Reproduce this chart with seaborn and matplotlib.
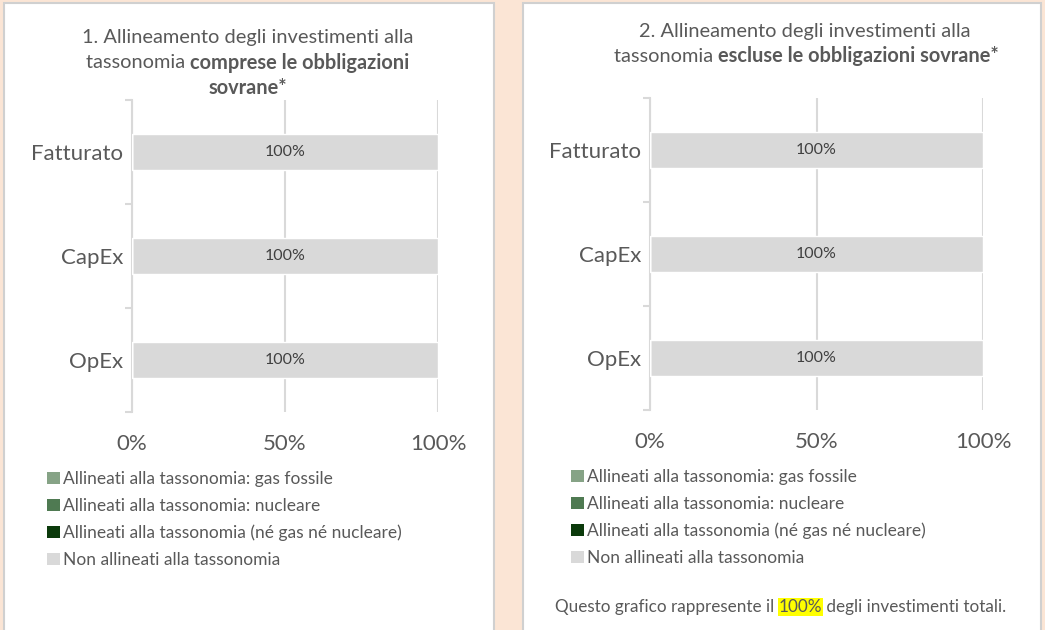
import numpy as np
import pandas as pd
import matplotlib
matplotlib.use("Agg")
import matplotlib.pyplot as plt
from matplotlib.patches import Rectangle, Patch
import seaborn as sns

categories = ["Fatturato", "CapEx", "OpEx"]
series_names = [
    "Allineati alla tassonomia: gas fossile",
    "Allineati alla tassonomia: nucleare",
    "Allineati alla tassonomia (né gas né nucleare)",
    "Non allineati alla tassonomia",
]
series_colors = ["#86A386", "#4F7A52", "#0B3A0B", "#D9D9D9"]

# panel 1: comprese le obbligazioni sovrane
gas_1 = [0, 0, 0]
nuc_1 = [0, 0, 0]
other_1 = [0, 0, 0]
non_1 = [100, 100, 100]

# panel 2: escluse le obbligazioni sovrane
gas_2 = [0, 0, 0]
nuc_2 = [0, 0, 0]
other_2 = [0, 0, 0]
non_2 = [100, 100, 100]

xticks = [0, 50, 100]
xtick_labels = ["0%", "50%", "100%"]

TXT = "#595959"
GRID = "#D9D9D9"
BG = "#FBE5D5"
FONT = ["Lato", "DejaVu Sans"]

sns.set_style("white")
plt.rcParams["font.family"] = FONT

W, H = 1045, 630
fig = plt.figure(figsize=(W / 100, H / 100), dpi=100)
fig.patch.set_facecolor(BG)

def px(x, y):
    return x / W, 1 - y / H

# white panels
for x0, x1 in [(4, 494), (523, 1041)]:
    fig.patches.append(Rectangle((x0 / W, -0.01), (x1 - x0) / W, 1.01 - 3 / H,
                                 transform=fig.transFigure, facecolor="white",
                                 edgecolor="#D0D0D0", lw=1.5, zorder=-5))

renderer = fig.canvas.get_renderer()

def centered_line(xc, yc, parts, size):
    texts = []
    for s, weight, hl in parts:
        t = fig.text(0, 0, s, fontsize=size, fontweight=weight, color=TXT,
                     va="center", ha="left", transform=None)
        if hl:
            t.set_bbox(dict(facecolor="#FFFF00", edgecolor="none", pad=0.5))
        texts.append(t)
    widths = [t.get_window_extent(renderer).width for t in texts]
    total = sum(widths)
    x = xc - total / 2
    for t, w in zip(texts, widths):
        t.set_position((x, H - yc))
        x += w

def draw_panel(ax, gas, nuc, other, non):
    df = pd.DataFrame({"cat": categories, "gas": gas, "nuc": nuc,
                       "other": other, "non": non})
    cum = df[["gas", "nuc", "other", "non"]].cumsum(axis=1)
    for col, color in zip(["non", "other", "nuc", "gas"], series_colors[::-1]):
        sns.barplot(data=pd.DataFrame({"cat": categories, "v": cum[col]}),
                    x="v", y="cat", orient="h", color=color, width=0.34,
                    saturation=1, ax=ax, zorder=3)
    for p in ax.patches:
        if p.get_width() > 0 and p.get_facecolor()[0] > 0.8:
            ax.text(p.get_x() + p.get_width() / 2, p.get_y() + p.get_height() / 2,
                    f"{p.get_width():.0f}%", ha="center", va="center",
                    fontsize=11.5, color="#404040", zorder=4)
    ax.set_xlim(0, 100)
    ax.set_ylim(2.5, -0.5)
    ax.set_xticks(xticks)
    ax.set_xticklabels(xtick_labels)
    ax.set_xlabel("")
    ax.set_ylabel("")
    ax.grid(axis="x", color=GRID, lw=1.5, zorder=0)
    ax.set_axisbelow(True)
    for s in ["top", "right", "bottom"]:
        ax.spines[s].set_visible(False)
    ax.spines["left"].set_color(GRID)
    ax.spines["left"].set_linewidth(1.5)
    ax.tick_params(axis="x", length=0, labelsize=16, labelcolor=TXT, pad=16)
    ax.tick_params(axis="y", which="major", length=0, labelsize=16,
                   labelcolor=TXT, pad=6.5)
    ax.set_yticks([-0.5, 0.5, 1.5, 2.5], minor=True)
    ax.tick_params(axis="y", which="minor", left=True, length=5, width=1.5,
                   color=GRID)

ax1 = fig.add_axes([132 / W, 1 - 412 / H, (438 - 132) / W, 312 / H])
ax2 = fig.add_axes([650 / W, 1 - 410 / H, (983 - 650) / W, 312 / H])
ax1.set_facecolor("none")
ax2.set_facecolor("none")
draw_panel(ax1, gas_1, nuc_1, other_1, non_1)
draw_panel(ax2, gas_2, nuc_2, other_2, non_2)

# titles
centered_line(248, 38, [("1. Allineamento degli investimenti alla", "normal", False)], 14.4)
centered_line(248, 63, [("tassonomia ", "normal", False),
                        ("comprese le obbligazioni", "bold", False)], 14.4)
centered_line(248, 88, [("sovrane*", "bold", False)], 14.4)
centered_line(805, 31, [("2. Allineamento degli investimenti alla", "normal", False)], 14.4)
centered_line(806, 56, [("tassonomia ", "normal", False),
                        ("escluse le obbligazioni sovrane*", "bold", False)], 14.4)

# legends
handles = [Patch(facecolor=c, edgecolor="none") for c in series_colors]
for x0, y0 in [(47, 471), (571, 469)]:
    leg = fig.legend(handles, series_names, loc="upper left",
                     bbox_to_anchor=px(x0, y0), frameon=False, fontsize=12.5,
                     handlelength=0.72, handleheight=0.72, handletextpad=0.2,
                     labelspacing=0.62, borderpad=0, borderaxespad=0)
    for t in leg.get_texts():
        t.set_color(TXT)

centered_line(781, 607, [("Questo grafico rappresente il ", "normal", False),
                         ("100%", "normal", True),
                         (" degli investimenti totali.", "normal", False)], 12.3)

fig.savefig("out.png", dpi=100, facecolor=BG)
